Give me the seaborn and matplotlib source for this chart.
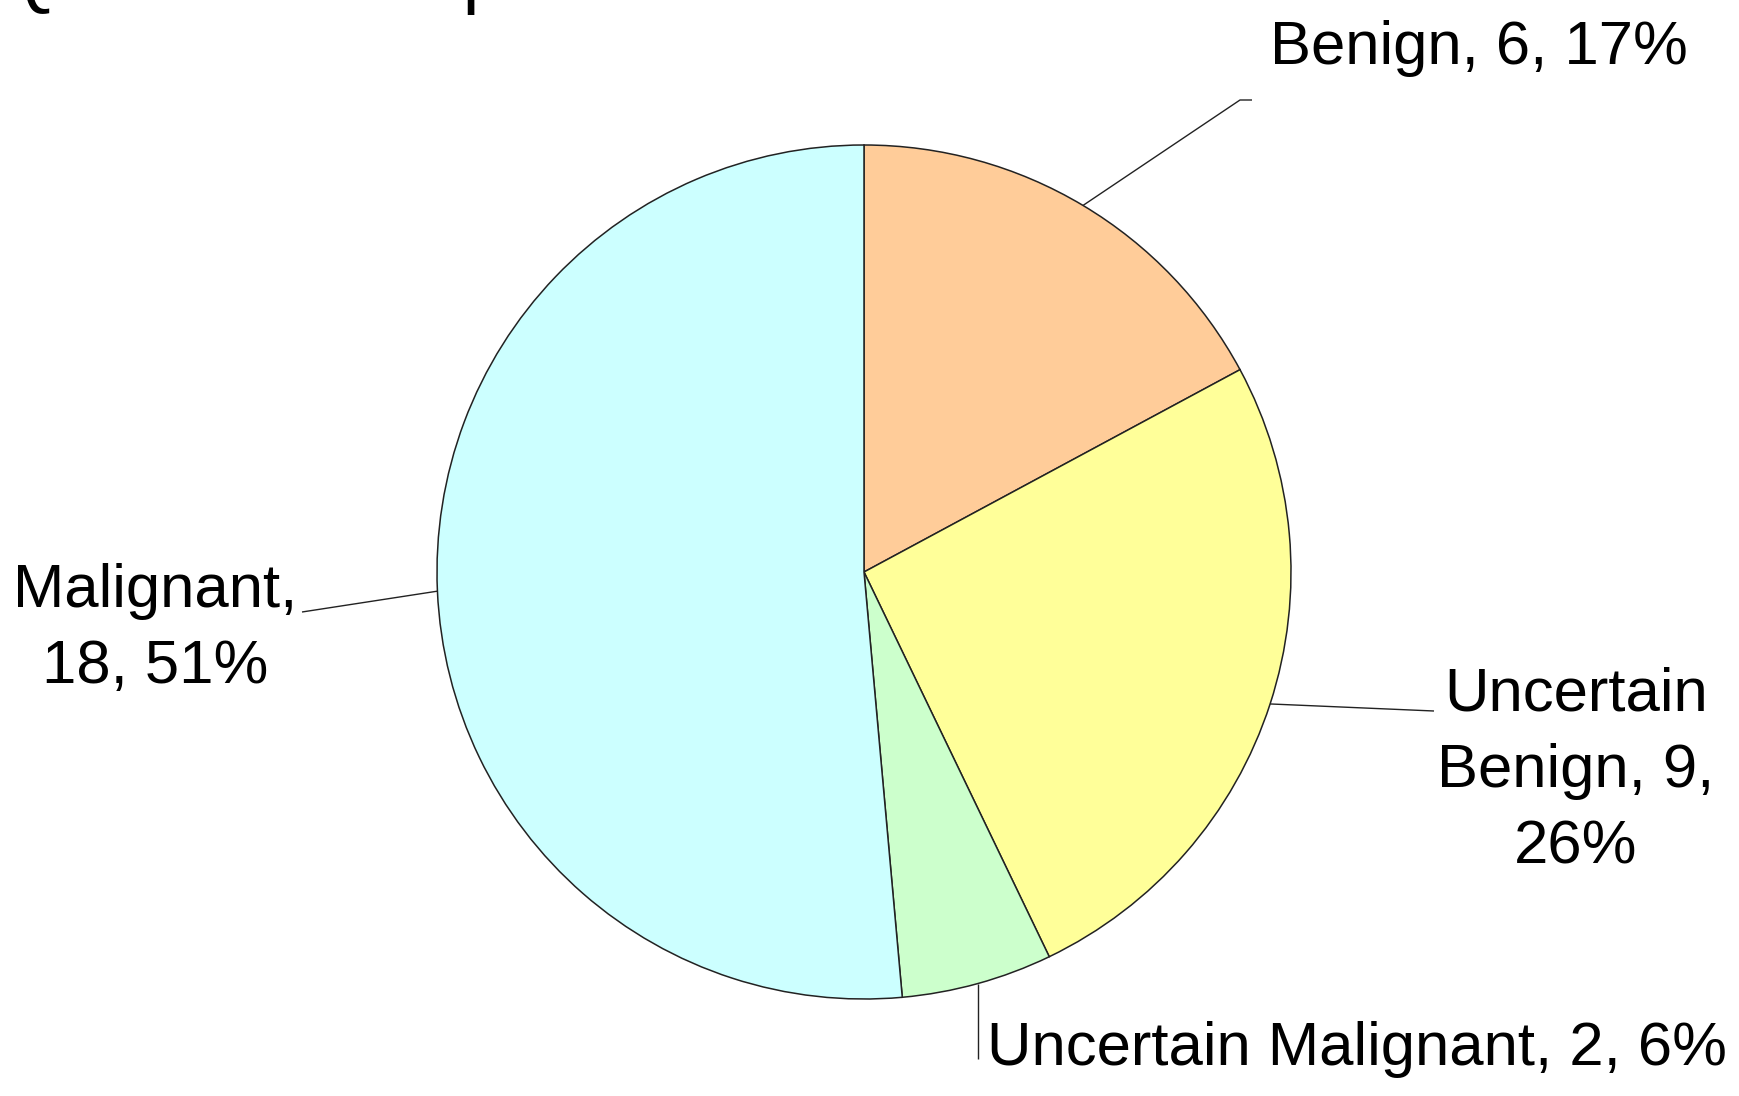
import numpy as np
import matplotlib
matplotlib.use("Agg")
import matplotlib.pyplot as plt
import seaborn as sns

# Diagnosis counts
categories = ["Benign", "Uncertain Benign", "Uncertain Malignant", "Malignant"]
counts = [6, 9, 2, 18]
label_texts = ["Benign, 6, 17%", "Uncertain\nBenign, 9,\n26%",
               "Uncertain Malignant, 2, 6%", "Malignant,\n18, 51%"]
slice_colors = ["#FFCC99", "#FFFF99", "#CCFFCC", "#CCFFFF"]
title_text = "Question Responses"

sns.set_theme(style="white")
plt.rcParams["font.family"] = ["Liberation Sans", "DejaVu Sans"]

W, H = 1739, 1096
fig = plt.figure(figsize=(W / 100, H / 100), dpi=100)
ax = fig.add_axes([0, 0, 1, 1])

center = (864, H - 572)
radius = 427
wedges, _ = ax.pie(counts, colors=slice_colors, startangle=90,
                   counterclock=False, center=center, radius=radius,
                   wedgeprops=dict(edgecolor="#222222", linewidth=1.1),
                   frame=True)
ax.set_xlim(0, W)
ax.set_ylim(0, H)
ax.set_axis_off()

fs = 44.4
txt_kw = dict(fontsize=fs, color="black")
line_kw = dict(color="#222222", lw=1.0, solid_capstyle="butt")


def edge_point(w):
    ang = np.deg2rad((w.theta1 + w.theta2) / 2)
    return (w.center[0] + w.r * np.cos(ang), w.center[1] + w.r * np.sin(ang))


# Benign
x0, y0 = edge_point(wedges[0])
ax.plot([x0, 1240, 1252], [y0, H - 100, H - 100], **line_kw)
ax.text(1270, H - 64, label_texts[0], ha="left", va="baseline", **txt_kw)

# Uncertain Benign
x0, y0 = edge_point(wedges[1])
ax.plot([x0, 1434], [y0, H - 711], **line_kw)
ax.text(1576, H - 863, label_texts[1], ha="center", va="baseline",
        multialignment="center", linespacing=1.44, **txt_kw)

# Uncertain Malignant
x0, y0 = edge_point(wedges[2])
ax.plot([x0, x0], [y0, H - 1059], **line_kw)
ax.text(987, H - 1065, label_texts[2], ha="left", va="baseline", **txt_kw)

# Malignant
x0, y0 = edge_point(wedges[3])
ax.plot([x0, 302], [y0, H - 612], **line_kw)
ax.text(155, H - 683, label_texts[3], ha="center", va="baseline",
        multialignment="center", linespacing=1.44, **txt_kw)

# Heading sits above the top edge of the slide; only its descenders show
ax.text(0, H + 1, title_text, fontsize=55, color="black", ha="left",
        va="baseline", clip_on=False)

fig.savefig("out.png", dpi=100, facecolor="white")
